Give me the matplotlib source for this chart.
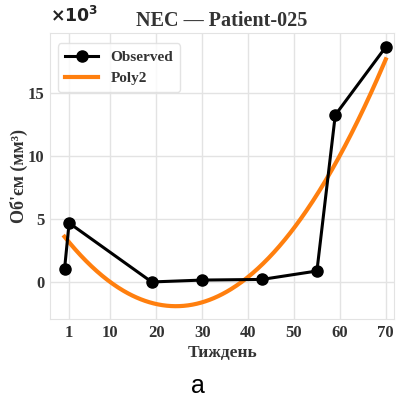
import matplotlib.pyplot as plt
import matplotlib.ticker as mticker
import numpy as np

# weekly tumour volume, mm^3
weeks = [0, 1, 19, 30, 43, 55, 59, 70]
volume = [1000, 4680, 0, 150, 200, 870, 13250, 18650]
xticks = [1, 10, 20, 30, 40, 50, 60, 70]
yticks = [0, 5000, 10000, 15000]

plt.rcParams['font.family'] = ['Liberation Serif', 'DejaVu Serif']
plt.rcParams['mathtext.fontset'] = 'dejavusans'

coef = np.polyfit(weeks, volume, 2)
xs = np.linspace(min(weeks), max(weeks), 300)
ys = np.polyval(coef, xs)

fig = plt.figure(figsize=(3.96, 4.0), dpi=100)
ax = fig.add_axes([0.127, 0.2025, 0.868, 0.715])

ax.plot(weeks, volume, '-o', color='black', lw=2.2, ms=8, label='Observed', zorder=3)
ax.plot(xs, ys, color='#ff7f0e', lw=3, label='Poly2', zorder=2)

ax.set_xlim(-3.1, 71.8)
ax.set_ylim(-2940, 19760)
ax.set_xticks(xticks)
ax.set_yticks(yticks)

# thousands on the axis, multiplier written above it
ax.yaxis.set_major_formatter(mticker.FuncFormatter(lambda v, p: f'{v/1000:g}'))
ax.text(0.0, 1.025, r'$\mathbf{\times 10^{3}}$', transform=ax.transAxes,
        fontsize=12.5, color='#222222', ha='left', va='bottom')

ax.grid(True, color='#e3e3e3', lw=1)
ax.set_axisbelow(True)
for s in ax.spines.values():
    s.set_color('#e3e3e3')
ax.tick_params(length=0, pad=4, labelsize=12, colors='#333333')
for lab in ax.get_xticklabels() + ax.get_yticklabels():
    lab.set_fontweight('bold')

ax.set_title('NEC — Patient-025', fontsize=14.5, fontweight='bold', color='#333333', pad=5)
ax.set_xlabel('Тиждень', fontsize=12.5, fontweight='bold', color='#333333', labelpad=3)
ax.set_ylabel('Об\'єм (мм³)', fontsize=13, fontweight='bold', color='#333333', labelpad=0)

leg = ax.legend(loc='upper left', fontsize=11, frameon=True, borderpad=0.45,
                handlelength=2.2, bbox_to_anchor=(0.0, 0.99))
leg.get_frame().set_edgecolor('#dddddd')
for t in leg.get_texts():
    t.set_fontweight('bold')
    t.set_color('#333333')

fig.text(0.5, 0.035, 'a', ha='center', va='center', fontsize=18,
         fontfamily='Liberation Sans')

fig.savefig('out.png', dpi=100)
